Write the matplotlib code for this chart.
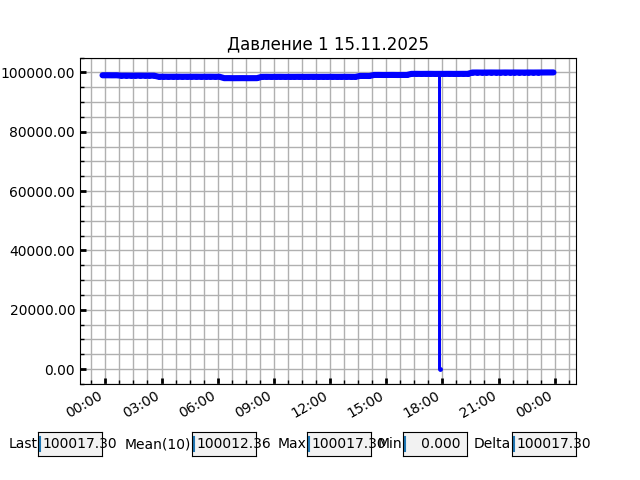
import matplotlib
matplotlib.use('Agg')
import matplotlib.pyplot as plt
import matplotlib.dates as mdates
from matplotlib.ticker import MultipleLocator, FormatStrFormatter
import numpy as np

# samples every 15 min, starting 14.11.2025 23:51
start = np.datetime64('2025-11-14T23:51')
step_min = 15
pressure = [
    99060, 99070, 99050, 99060, 98930, 98940, 98920, 98930,
    98940, 98920, 98930, 98930, 98560, 98570, 98550, 98560,
    98570, 98550, 98560, 98560, 98570, 98550, 98560, 98570,
    98550, 98560, 98090, 98100, 98080, 98090, 98100, 98080,
    98090, 98090, 98530, 98540, 98520, 98530, 98540, 98520,
    98530, 98530, 98540, 98520, 98530, 98540, 98520, 98530,
    98530, 98540, 98520, 98530, 98540, 98530, 98520, 98830,
    98840, 98820, 99170, 99180, 99160, 99170, 99180, 99160,
    99170, 99170, 99530, 99540, 99520, 99530, 99540, 99520,
    0.0, 99530, 99540, 99520, 99530, 99540, 99530, 99980,
    99990, 99970, 99980, 99990, 99980, 99970, 99990, 99980,
    99990, 99980, 99970, 99990, 99980, 99990, 100000, 100010,
    100012,
]
# extra readings around the 17:51 dropout and the last one
extra_times = ['2025-11-15T17:50', '2025-11-15T17:52', '2025-11-15T23:56']
extra_values = [99530, 99530, 100017.30]

title = 'Давление 1 15.11.2025'
box_labels = ['Last', 'Mean(10)', 'Max', 'Min', 'Delta']
box_values = ['100017.30', '100012.36', '100017.30', '   0.000', '100017.30']
box_x = [0.06, 0.30, 0.48, 0.63, 0.80]

times = start + np.arange(len(pressure)) * np.timedelta64(step_min, 'm')
times = np.append(times, np.array(extra_times, dtype='datetime64[m]'))
values = np.append(np.array(pressure, dtype=float), extra_values)
order = np.argsort(times)
times = times[order].astype('datetime64[s]').astype(object)
values = values[order]
ok = values > 0

fig, ax = plt.subplots(figsize=(6.4, 4.8), dpi=100)
# dense readings look like a solid band
ax.plot(times[ok], values[ok], color='blue', linewidth=4.4,
        solid_capstyle='round', solid_joinstyle='round')
ax.plot(times, values, color='blue', marker='o', markersize=2.6,
        markeredgewidth=0.8, linewidth=1.5)
ax.set_title(title)

ax.xaxis.set_major_locator(mdates.HourLocator(byhour=range(0, 24, 3)))
ax.xaxis.set_minor_locator(MultipleLocator(45 / 1440))
ax.xaxis.set_major_formatter(mdates.DateFormatter('%H:%M'))
ax.yaxis.set_major_locator(MultipleLocator(20000))
ax.yaxis.set_minor_locator(MultipleLocator(5000))
ax.yaxis.set_major_formatter(FormatStrFormatter('%.2f'))
ax.tick_params(which='major', direction='in', length=4, width=2)
ax.tick_params(which='minor', direction='in', length=3, width=1)
ax.grid(which='both', color='#b0b0b0', linewidth=1)
fig.autofmt_xdate()

for lab, val, x in zip(box_labels, box_values, box_x):
    bax = fig.add_axes([x, 0.05, 0.1, 0.05], facecolor='0.95')
    bax.set_xticks([])
    bax.set_yticks([])
    bax.set_xlim(0, 1)
    bax.set_ylim(0, 1)
    bax.text(-0.01, 0.5, lab, ha='right', va='center', transform=bax.transAxes)
    bax.text(0.07, 0.5, val, ha='left', va='center', transform=bax.transAxes,
             clip_on=False)
    bax.plot([0.03, 0.03], [0.2, 0.8], color='#1f77b4', linewidth=1.5)

fig.savefig('out.png', dpi=100)
